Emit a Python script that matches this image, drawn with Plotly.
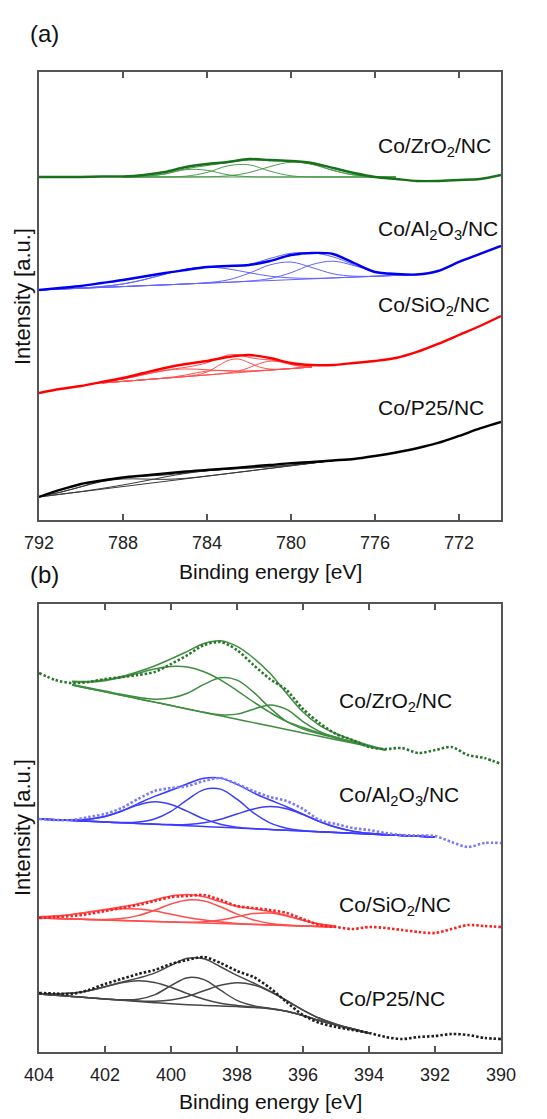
import plotly.graph_objects as go

FONT = "Liberation Sans, Arial, Helvetica, sans-serif"

# ---------------- Panel (a): Co 2p region ----------------
E_A = [792, 791, 790, 789, 788, 787, 786, 785, 784, 783, 782, 781, 780, 779, 778,
       777, 776, 775, 774, 773, 772, 771, 770]
A_TICKS = [792, 788, 784, 780, 776, 772]

ZR_A_DATA = [343, 343, 343, 343.5, 343.5, 345, 348, 353, 356, 358, 361, 360, 359, 357,
             352, 347, 343, 341, 339, 339, 340, 341, 345]
ZR_A_FIT_E = [788, 787, 786, 785, 784, 783, 782, 781, 780, 779, 778, 777, 776, 775]
ZR_A_BG = [343, 343, 343, 343, 343, 343, 343, 343, 343, 343, 343, 343, 343, 343]
ZR_A_P1 = [0, 0.4, 3.0, 7.4, 6.7, 2.2, 0.3, 0, 0, 0, 0, 0, 0, 0]
ZR_A_P2 = [0, 0, 0.1, 0.8, 4.5, 11.2, 12.2, 5.8, 1.2, 0.1, 0, 0, 0, 0]
ZR_A_P3 = [0, 0, 0, 0, 0.2, 1.1, 4.4, 10.4, 14.8, 12.7, 6.6, 2.0, 0.4, 0]

AL_A_DATA = [230, 232, 234, 237, 240, 243.5, 247, 250, 253, 254, 255, 259, 265, 267,
             266, 257, 248, 246, 245.5, 249, 258, 266, 274]
AL_A_FIT_E = [792, 791, 790, 789, 788, 787, 786, 785, 784, 783, 782, 781, 780, 779,
              778, 777, 776, 775, 774]
AL_A_BG = [230.0, 230.9, 231.7, 232.6, 233.4, 234.3, 235.1, 236.0, 236.9, 237.7, 238.6,
           239.4, 240.3, 241.1, 242.0, 242.9, 243.7, 244.6, 245.4]
AL_A_P1 = [0, 0.1, 0.2, 0.9, 2.6, 6.0, 10.7, 14.8, 15.9, 13.4, 8.7, 4.4, 1.8, 0.5, 0.1, 0, 0, 0, 0]
AL_A_P2 = [0, 0, 0, 0, 0, 0, 0, 0, 0.4, 2.4, 8.1, 15.7, 17.6, 11.3, 4.2, 0.9, 0.1, 0, 0]
AL_A_P3 = [0, 0, 0, 0, 0, 0, 0, 0, 0, 0, 0.3, 2.0, 7.0, 14.3, 16.8, 11.5, 4.5, 1.0, 0.1]

SI_A_DATA = [127, 131, 134, 138, 142, 147, 152, 156, 159, 163, 165, 162, 157, 155,
             155, 157, 159, 162, 168, 176, 185, 194, 204]
SI_A_FIT_E = [789, 788.5, 788, 787.5, 787, 786.5, 786, 785.5, 785, 784.5, 784, 783.5,
              783, 782.5, 782, 781.5, 781, 780.5, 780, 779.5, 779]
SI_A_BG = [137.0, 137.8, 138.6, 139.4, 140.2, 141.0, 141.8, 142.6, 143.4, 144.2, 145.0,
           145.8, 146.6, 147.4, 148.2, 149.0, 149.8, 150.6, 151.4, 152.2, 153.0]
SI_A_P1 = [0.7, 1.4, 2.4, 3.7, 5.2, 6.6, 7.6, 8.0, 7.6, 6.6, 5.2, 3.7, 2.4, 1.4, 0.7,
           0.4, 0.2, 0.1, 0, 0, 0]
SI_A_P2 = [0, 0, 0, 0, 0, 0, 0.2, 0.7, 1.6, 3.0, 3.9, 3.8, 2.7, 1.4, 0.5, 0.2, 0, 0, 0, 0, 0]
SI_A_P3 = [0, 0, 0, 0, 0, 0, 0, 0, 0.1, 0.8, 3.1, 7.9, 12.9, 13.5, 9.1, 3.9, 1.1, 0.2, 0, 0, 0]
SI_A_P4 = [0, 0, 0, 0, 0, 0, 0, 0, 0, 0, 0, 0.1, 0.4, 1.5, 4.1, 7.4, 9.0, 7.4, 4.1, 1.5, 0.4]

P25_A_DATA = [23, 30, 36, 39.5, 42.5, 44.5, 46.5, 48.5, 50, 51.5, 53.3, 55, 56.8, 58,
              59.5, 61, 64, 67.5, 71.7, 77, 84, 91.5, 98]
P25_A_FIT_E = [792, 791, 790, 789, 788, 787, 786, 785, 784, 783, 782, 781, 780, 779, 778]
P25_A_BG = [23.0, 25.6, 28.2, 30.8, 33.4, 36.0, 38.6, 41.2, 43.8, 46.4, 49.0, 51.6,
            54.2, 56.8, 59.4]
P25_A_P1 = [0.5, 2.0, 4.9, 7.6, 7.6, 4.9, 2.0, 0.5, 0.1, 0, 0, 0, 0, 0, 0]
P25_A_P2 = [0, 0.1, 0.2, 0.7, 1.6, 2.9, 4.4, 5.4, 5.4, 4.4, 2.9, 1.6, 0.7, 0.2, 0.1]

# ---------------- Panel (b): N 1s region ----------------
E_B = [404, 403.5, 403, 402.5, 402, 401.5, 401, 400.5, 400, 399.5, 399, 398.5, 398,
       397.5, 397, 396.5, 396, 395.5, 395, 394.5, 394, 393.5, 393, 392.5, 392, 391.5,
       391, 390.5, 390]
B_TICKS = [404, 402, 400, 398, 396, 394, 392, 390]

ZR_B_DATA = [379, 372, 369, 370, 373, 375, 377, 380, 388, 397, 407, 410, 402, 387, 373,
             362, 343, 329, 318, 312, 305, 303, 304, 299, 302, 305, 297, 294, 288]
ZR_B_FIT_E = [403, 402.5, 402, 401.5, 401, 400.5, 400, 399.5, 399, 398.5, 398, 397.5,
              397, 396.5, 396, 395.5, 395, 394.5, 394, 393.5]
ZR_B_BG = [367.0, 363.6, 360.2, 356.7, 353.3, 349.9, 346.5, 343.1, 339.6, 336.2, 332.8,
           329.4, 326.0, 322.5, 319.1, 315.7, 312.3, 308.9, 305.4, 302.0]
ZR_B_P1 = [3.4, 6.4, 11.2, 17.8, 25.5, 33.2, 39.1, 41.9, 40.7, 35.9, 28.6, 20.7, 13.6,
           8.1, 5.5, 3.5, 2.2, 1.3, 0.6, 0]
ZR_B_P2 = [0.5, 0.6, 0.8, 1.0, 1.5, 3.0, 7.5, 15.7, 28.0, 38.0, 39.1, 30.5, 18.0, 8.1,
           4.0, 2.5, 1.5, 0.8, 0.4, 0.1]
ZR_B_P3 = [0, 0, 0, 0, 0, 0, 0, 0, 0.2, 1.1, 5.1, 13.4, 21.1, 20.1, 11.4, 5.0, 2.5, 1.0,
           0.4, 0.1]

AL_B_DATA = [233, 232, 232, 235, 238, 244, 253, 261, 264, 266, 271, 274, 268, 261, 255,
             251, 243, 232, 228, 224, 222, 219, 217, 216.5, 216, 210, 205, 209, 209]
AL_B_FIT_E = [404, 403.5, 403, 402.5, 402, 401.5, 401, 400.5, 400, 399.5, 399, 398.5,
              398, 397.5, 397, 396.5, 396, 395.5, 395, 394.5, 394, 393.5, 393, 392.5, 392]
AL_B_BG = [233.0, 232.2, 231.5, 230.8, 230.0, 229.2, 228.5, 227.8, 227.0, 226.2, 225.5,
           224.8, 224.0, 223.2, 222.5, 221.8, 221.0, 220.2, 219.5, 218.8, 218.0, 217.2,
           216.5, 215.8, 215.0]
AL_B_P1 = [0, 0.1, 0.5, 2.0, 5.5, 11.5, 18.4, 22.4, 20.6, 14.4, 7.6, 3.0, 0.9, 0.2, 0,
           0, 0, 0, 0, 0, 0, 0, 0, 0, 0]
AL_B_P2 = [0, 0, 0, 0, 0.1, 0.3, 1.5, 5.3, 13.7, 26.3, 36.9, 38.1, 28.8, 16.0, 6.6, 2.0,
           0.4, 0.1, 0, 0, 0, 0, 0, 0, 0]
AL_B_P3 = [0, 0, 0, 0, 0, 0, 0, 0.1, 0.4, 1.4, 3.7, 8.0, 14.0, 19.8, 22.9, 21.5, 16.5,
           10.2, 5.2, 2.1, 0.7, 0.2, 0, 0, 0]

SI_B_DATA = [134, 135, 136, 138, 141, 144, 147, 151, 155, 156, 157, 152, 146, 144, 142,
             139, 133, 127, 125, 123, 125, 124, 122, 120, 119, 123, 127, 126, 125]
SI_B_FIT_E = [404, 403.5, 403, 402.5, 402, 401.5, 401, 400.5, 400, 399.5, 399, 398.5,
              398, 397.5, 397, 396.5, 396, 395.5, 395]
SI_B_BG = [134.0, 133.5, 133.0, 132.5, 132.0, 131.5, 131.0, 130.5, 130.0, 129.5, 129.0,
           128.5, 128.0, 127.5, 127.0, 126.5, 126.0, 125.5, 125.0]
SI_B_P1 = [1.2, 2.5, 4.6, 7.3, 9.9, 11.7, 11.9, 10.4, 7.8, 5.1, 2.9, 1.4, 0.6, 0.2, 0.1,
           0, 0, 0, 0]
SI_B_P2 = [0, 0, 0, 0.1, 0.6, 2.0, 5.4, 11.2, 18.0, 22.5, 22.0, 16.7, 9.9, 4.6, 1.6,
           0.5, 0.1, 0, 0]
SI_B_P3 = [0, 0, 0, 0, 0, 0, 0, 0, 0.1, 0.3, 1.3, 3.6, 7.3, 10.9, 11.9, 9.6, 5.7, 2.5, 0.8]

P25_B_DATA = [59, 58.5, 58, 62, 68, 73, 78, 82, 88, 92, 95, 89, 81, 75, 64, 50, 37, 29,
              25, 22, 19, 15, 13, 15, 16, 18, 17, 14, 13]
P25_B_FIT_E = [404, 403.5, 403, 402.5, 402, 401.5, 401, 400.5, 400, 399.5, 399, 398.5,
               398, 397.5, 397, 396.5, 396, 395.5, 395, 394.5, 394]
P25_B_BG = [58.0, 56.8, 55.5, 54.3, 53.0, 51.8, 50.5, 49.3, 48.2, 47.3, 46.6, 46.0, 45.4,
            44.6, 43.3, 40.8, 36.5, 31.5, 27.0, 23.0, 19.0]
P25_B_P1 = [0.4, 1.3, 3.4, 7.0, 12.2, 17.4, 20.7, 20.3, 16.5, 11.1, 6.2, 2.8, 1.1, 0.3,
            0.1, 0, 0, 0, 0, 0, 0]
P25_B_P2 = [0, 0, 0, 0, 0, 0.4, 2.2, 7.8, 18.1, 27.0, 25.8, 15.8, 6.2, 1.6, 0.3, 0, 0, 0,
            0, 0, 0]
P25_B_P3 = [0, 0, 0, 0, 0, 0.1, 0.5, 1.5, 3.9, 8.3, 14.6, 20.7, 23.9, 22.5, 17.2, 10.7,
            5.4, 2.2, 0.7, 0.2, 0]

LABELS = ["Co/ZrO<sub>2</sub>/NC", "Co/Al<sub>2</sub>O<sub>3</sub>/NC",
          "Co/SiO<sub>2</sub>/NC", "Co/P25/NC"]

fig = go.Figure()


def add_fit(xa, ya, e_fit, bg, comps, color, width):
    fig.add_trace(go.Scatter(x=e_fit, y=bg, mode="lines", xaxis=xa, yaxis=ya,
                             line=dict(color=color, width=width, shape="spline"),
                             hoverinfo="skip"))
    env = list(bg)
    for comp in comps:
        yy = [b + c for b, c in zip(bg, comp)]
        env = [e + c for e, c in zip(env, comp)]
        fig.add_trace(go.Scatter(x=e_fit, y=yy, mode="lines", xaxis=xa, yaxis=ya,
                                 line=dict(color=color, width=width, shape="spline"),
                                 hoverinfo="skip"))
    fig.add_trace(go.Scatter(x=e_fit, y=env, mode="lines", xaxis=xa, yaxis=ya,
                             line=dict(color=color, width=width, shape="spline"),
                             hoverinfo="skip"))


# panel (a)
panel_a = [
    (ZR_A_DATA, ZR_A_FIT_E, ZR_A_BG, [ZR_A_P1, ZR_A_P2, ZR_A_P3], "#17701a", "#4f9a4f"),
    (AL_A_DATA, AL_A_FIT_E, AL_A_BG, [AL_A_P1, AL_A_P2, AL_A_P3], "#0000f0", "#6262ff"),
    (SI_A_DATA, SI_A_FIT_E, SI_A_BG, [SI_A_P1, SI_A_P2, SI_A_P3, SI_A_P4], "#ff0000", "#ff5050"),
    (P25_A_DATA, P25_A_FIT_E, P25_A_BG, [P25_A_P1, P25_A_P2], "#000000", "#3a3a3a"),
]
for data, efit, bg, comps, dcol, fcol in panel_a:
    add_fit("x", "y", efit, bg, comps, fcol, 1.0)
    fig.add_trace(go.Scatter(x=E_A, y=data, mode="lines", xaxis="x", yaxis="y",
                             line=dict(color=dcol, width=2.4, shape="spline", smoothing=0.8)))

# panel (b)
panel_b = [
    (ZR_B_DATA, ZR_B_FIT_E, ZR_B_BG, [ZR_B_P1, ZR_B_P2, ZR_B_P3], "#2a752a", "#3f8d3f"),
    (AL_B_DATA, AL_B_FIT_E, AL_B_BG, [AL_B_P1, AL_B_P2, AL_B_P3], "#7a7aff", "#3c3cff"),
    (SI_B_DATA, SI_B_FIT_E, SI_B_BG, [SI_B_P1, SI_B_P2, SI_B_P3], "#ff1e1e", "#ff4d4d"),
    (P25_B_DATA, P25_B_FIT_E, P25_B_BG, [P25_B_P1, P25_B_P2, P25_B_P3], "#1e1e1e", "#474747"),
]
for data, efit, bg, comps, dcol, fcol in panel_b:
    add_fit("x2", "y2", efit, bg, comps, fcol, 1.5)
    fig.add_trace(go.Scatter(x=E_B, y=data, mode="lines", xaxis="x2", yaxis="y2",
                             line=dict(color=dcol, width=2.6, dash="2.5px,2px",
                                       shape="spline", smoothing=0.8)))

AX = dict(showline=True, linecolor="#555555", linewidth=1.5, mirror="allticks",
          ticks="inside", ticklen=6, tickwidth=1.5, tickcolor="#555555",
          showgrid=False, zeroline=False,
          tickfont=dict(family=FONT, size=18, color="#222222"))
AY = dict(showline=True, linecolor="#555555", linewidth=1.5, mirror=True,
          ticks="", showticklabels=False, showgrid=False, zeroline=False,
          range=[0, 448], fixedrange=True)

# the page body adds an 8px offset; the figure is sized so that the plot areas
# land at x 39-501, y 72-520 and 604-1052 of the window
fig.update_layout(
    width=539, height=1111,
    margin=dict(l=31, r=46, t=64, b=67),
    paper_bgcolor="white", plot_bgcolor="white",
    showlegend=False,
    font=dict(family=FONT, color="#111111"),
    xaxis=dict(AX, range=[792, 770], tickmode="array", tickvals=A_TICKS,
               domain=[0, 1], anchor="y", ticklabelstandoff=6),
    yaxis=dict(AY, domain=[0.5429, 1.0], anchor="x"),
    xaxis2=dict(AX, range=[404, 390], tickmode="array", tickvals=B_TICKS,
                domain=[0, 1], anchor="y2", ticklabelstandoff=6),
    yaxis2=dict(AY, domain=[0.0, 0.4571], anchor="x2"),
)

ann = []


def txt(text, x, y, size, xanchor="center", angle=0):
    ann.append(dict(text=text, x=x, y=y, xref="paper", yref="paper", showarrow=False,
                    xanchor=xanchor, yanchor="middle", textangle=angle,
                    font=dict(family=FONT, size=size, color="#111111")))


def px_x(px):
    return (px - 39) / 462.0


def px_y(py):
    return (1052 - py) / 980.0


txt("(a)", px_x(44), px_y(33), 24)
txt("(b)", px_x(44), px_y(574), 24)
txt("Binding energy [eV]", 0.5, px_y(571), 21)
txt("Binding energy [eV]", 0.5, px_y(1101), 21)
txt("Intensity [a.u.]", px_x(22), px_y(297), 22, angle=-90)
txt("Intensity [a.u.]", px_x(22), px_y(828), 22, angle=-90)

for lab, py in zip(LABELS, [147, 230, 306, 407]):
    txt(lab, px_x(376), px_y(py), 21, xanchor="left")
for lab, py in zip(LABELS, [702, 796, 906, 998]):
    txt(lab, px_x(337), px_y(py), 21, xanchor="left")

fig.update_layout(annotations=ann)

fig.write_html("out.html")
